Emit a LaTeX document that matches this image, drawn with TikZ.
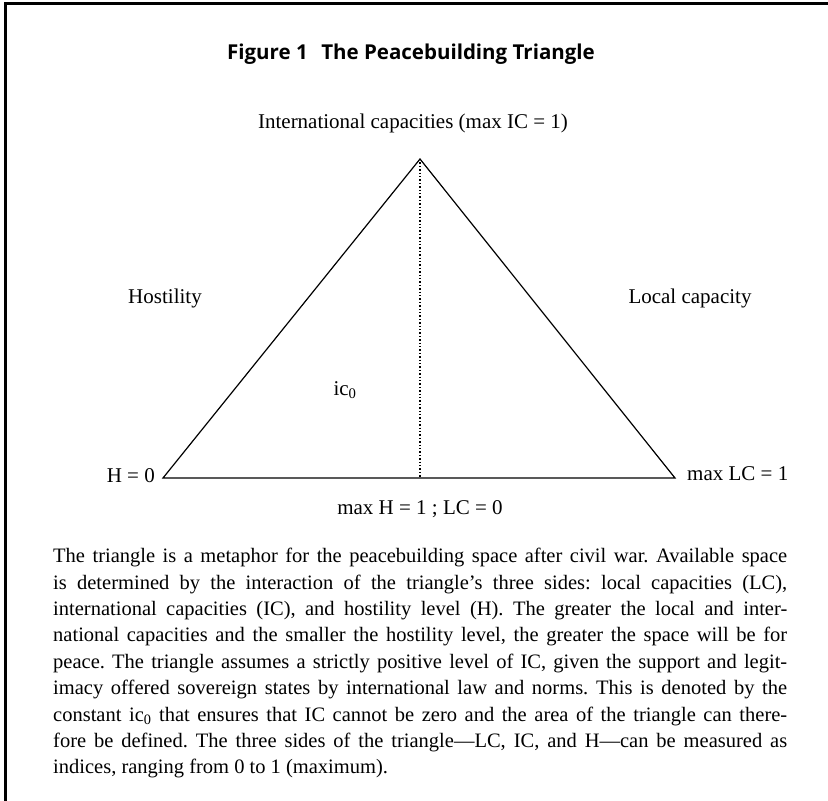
\documentclass[tikz,border=0pt]{standalone}
\usepackage{fontspec}
\setmainfont{Liberation Serif}
\newfontfamily\titlefont{Open Sans}
\usetikzlibrary{calc,positioning}
\frenchspacing

\begin{document}
\begin{tikzpicture}[x=1pt,y=-1pt,
    label text/.style={inner sep=0pt,font=\fontsize{21}{25}\selectfont},
    side/.style={line width=1.2pt},
    frame/.style={line width=2.6pt}]
            \useasboundingbox (0,0) rectangle (828,801);
            % frame (top and left only)
            \draw[frame] (5.5,801) -- (5.5,3.5) -- (828,3.5);
            % title
            \node (title) [anchor=base,inner sep=0pt] at (411,59)
                  {\titlefont\bfseries\fontsize{20.5}{24}\selectfont Figure 1\hspace{0.4em} The Peacebuilding Triangle};
            % corners of the triangle
            \coordinate (apex)   at (420,159);
            \coordinate (hzero)  at (163,478);
            \coordinate (lcmax)  at (675,478);
            \coordinate (icbase) at (420,478);
            % sides
            \draw[side,line join=miter] (hzero) -- (apex) -- (lcmax) -- cycle;
            % ic0 height
            \draw[line width=1.4pt,dotted] (apex) -- (icbase);
            % labels
            \node (ictop) [label text,anchor=base] at (413,128) {International capacities (max IC = 1)};
            \node (hostility) [label text,anchor=base] at (165,303) {Hostility};
            \node (localcap) [label text,anchor=base] at (690,303) {Local capacity};
            \node (iczero) [label text,anchor=base] at (345,395) {ic\textsubscript{0}};
            \node (hzlabel) [label text,anchor=base east] at (155,482) {H = 0};
            \node (lclabel) [label text,anchor=base west] at (687,480) {max LC = 1};
            \node (baselabel) [label text,anchor=base] at (420,514) {max H = 1 ; LC = 0};
            % caption text
            \node (caption) [anchor=north west,inner sep=0pt,text width=734pt,align=justify,
                  font=\fontsize{20.5}{26.4}\selectfont] at (53,548)
                  {The triangle is a metaphor for the peacebuilding space after civil war. Available space\linebreak
                   is determined by the interaction of the triangle's three sides: local capacities (LC),\linebreak
                   international capacities (IC), and hostility level (H). The greater the local and inter-\linebreak
                   national capacities and the smaller the hostility level, the greater the space will be for\linebreak
                   peace. The triangle assumes a strictly positive level of IC, given the support and legit-\linebreak
                   imacy offered sovereign states by international law and norms. This is denoted by the\linebreak
                   constant ic\textsubscript{0} that ensures that IC cannot be zero and the area of the triangle can there-\linebreak
                   fore be defined. The three sides of the triangle---LC, IC, and H---can be measured as\linebreak
                   indices, ranging from 0 to 1 (maximum).};
\end{tikzpicture}
\end{document}
